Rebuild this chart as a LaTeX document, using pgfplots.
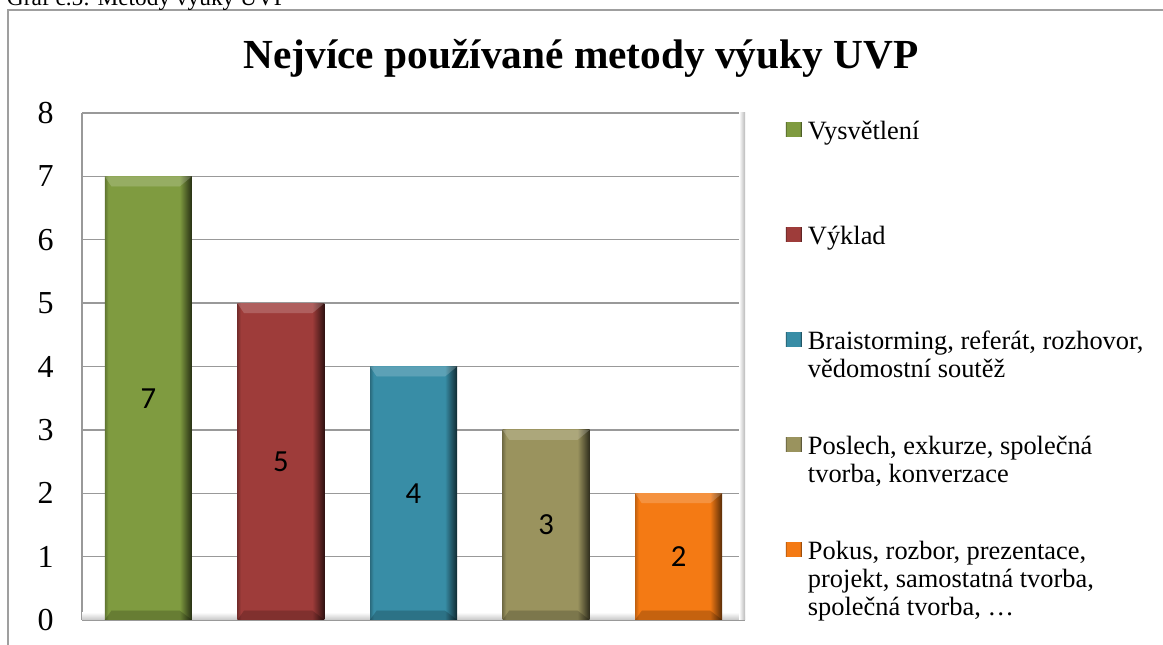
\documentclass[border=0pt]{standalone}
\usepackage{pgfplots}
\pgfplotsset{compat=1.18}
\usepackage{fontspec}
\setmainfont{Liberation Serif}
\newfontfamily\calibri{Carlito}

\definecolor{cg}{HTML}{7F9B40}\colorlet{cgL}{cg!75!black}\colorlet{cgD}{cg!30!black}
\definecolor{cr}{HTML}{9E3C3A}\colorlet{crL}{cr!75!black}\colorlet{crD}{cr!30!black}
\definecolor{cb}{HTML}{388DA6}\colorlet{cbL}{cb!75!black}\colorlet{cbD}{cb!30!black}
\definecolor{co}{HTML}{9A935E}\colorlet{coL}{co!75!black}\colorlet{coD}{co!30!black}
\definecolor{cy}{HTML}{F47A14}\colorlet{cyL}{cy!80!black}\colorlet{cyD}{cy!35!black}

\pgfdeclarehorizontalshading{sg}{100bp}{color(0bp)=(cgL); color(25bp)=(cgL); color(27bp)=(cg); color(68bp)=(cg); color(75bp)=(cgD); color(100bp)=(cgD)}
\pgfdeclarehorizontalshading{sr}{100bp}{color(0bp)=(crL); color(25bp)=(crL); color(27bp)=(cr); color(68bp)=(cr); color(75bp)=(crD); color(100bp)=(crD)}
\pgfdeclarehorizontalshading{sb}{100bp}{color(0bp)=(cbL); color(25bp)=(cbL); color(27bp)=(cb); color(68bp)=(cb); color(75bp)=(cbD); color(100bp)=(cbD)}
\pgfdeclarehorizontalshading{so}{100bp}{color(0bp)=(coL); color(25bp)=(coL); color(27bp)=(co); color(68bp)=(co); color(75bp)=(coD); color(100bp)=(coD)}
\pgfdeclarehorizontalshading{sy}{100bp}{color(0bp)=(cyL); color(25bp)=(cyL); color(27bp)=(cy); color(68bp)=(cy); color(75bp)=(cyD); color(100bp)=(cyD)}

\pgfplotsset{
  mybar/.style={shade, shading=#1, draw=none,
    path picture={
      \fill[white, opacity=0.25, path picture={}] (path picture bounding box.north west) -- (path picture bounding box.north east)
        -- ([xshift=-9pt,yshift=-7.5pt]path picture bounding box.north east) -- ([xshift=5pt,yshift=-7.5pt]path picture bounding box.north west) -- cycle;
      \fill[black, opacity=0.25, path picture={}] (path picture bounding box.south west) -- (path picture bounding box.south east)
        -- ([xshift=-9pt,yshift=7pt]path picture bounding box.south east) -- ([xshift=5pt,yshift=7pt]path picture bounding box.south west) -- cycle;
    },
    legend image code/.code={\path[##1, path picture={}] (0pt,2pt) rectangle (12pt,12.5pt);}},
}

\begin{document}
\begin{tikzpicture}
\useasboundingbox (0pt,0pt) rectangle (872.25pt,483.75pt);
% outer frame
\draw[gray!75, line width=1.4pt] (6pt,-20pt) -- (6pt,476.25pt) -- (890pt,476.25pt);
% caption (cut off at top)
\node[anchor=base west, inner sep=0pt] at (5pt,479.5pt) {\fontsize{17.5pt}{20pt}\selectfont Graf č.5: Metody výuky UVP};
% title
\node[anchor=base, inner sep=0pt] at (435.75pt,432pt) {\fontsize{31pt}{36pt}\selectfont\bfseries Nejvíce používané metody výuky UVP};

\begin{axis}[
  at={(61.5pt,18.75pt)}, anchor=south west,
  scale only axis, width=497.25pt, height=380.25pt,
  xmin=-0.5, xmax=4.5, ymin=0, ymax=8,
  ytick={0,1,...,8}, xtick=\empty,
  axis x line*=bottom, axis y line*=left,
  axis line style={draw=gray!80, line width=1.2pt, -},
  ymajorgrids, major grid style={draw=gray!80, line width=1.1pt},
  major tick length=0pt,
  ybar, bar width=65.25pt, bar shift=0pt,
  yticklabel={\fontsize{24pt}{28pt}\selectfont\pgfmathprintnumber{\tick}},
  yticklabel style={inner sep=0pt, anchor=east, xshift=-21pt},
  /pgf/number format/assume math mode=true,
  legend style={at={(1.0618,0.988)}, anchor=north west, draw=none, fill=none,
    inner sep=0pt, outer sep=0pt, row sep=0pt, column sep=4.5pt,
    cells={anchor=base west},
    nodes={inner sep=0pt, text height=15pt, text depth=63.75pt},
    font=\fontsize{19.8pt}{21pt}\selectfont},
  clip=false,
]
% floor and right wall of the 3D frame
\fill[top color=white, bottom color=gray!45] (axis cs:-0.5,0) rectangle (axis cs:4.5,0.12);
\fill[left color=white, right color=gray!55] (axis cs:4.455,0) rectangle (axis cs:4.5,8);

\addplot[mybar=sg] coordinates {(0,7)};
\addlegendentry{\parbox[t]{280pt}{\raggedright Vysvětlení}}
\addplot[mybar=sr] coordinates {(1,5)};
\addlegendentry{\parbox[t]{280pt}{\raggedright Výklad}}
\addplot[mybar=sb] coordinates {(2,4)};
\addlegendentry{\parbox[t]{280pt}{\raggedright Braistorming, referát, rozhovor,\\vědomostní soutěž}}
\addplot[mybar=so] coordinates {(3,3)};
\addlegendentry{\parbox[t]{280pt}{\raggedright Poslech, exkurze, společná\\tvorba, konverzace}}
\addplot[mybar=sy] coordinates {(4,2)};
\addlegendentry{\parbox[t]{280pt}{\raggedright Pokus, rozbor, prezentace,\\projekt, samostatná tvorba,\\společná tvorba, …}}

% value labels in the middle of each bar
\addplot[draw=none, fill=none, forget plot,
  nodes near coords={\calibri\fontsize{23pt}{27pt}\selectfont\pgfmathprintnumber{\pgfplotspointmeta}},
  visualization depends on={y \as \rawy},
  every node near coord/.append style={text=black, anchor=center, shift={(axis direction cs:0,-\rawy/2)}},
] coordinates {(0,7) (1,5) (2,4) (3,3) (4,2)};
\end{axis}
\end{tikzpicture}
\end{document}
